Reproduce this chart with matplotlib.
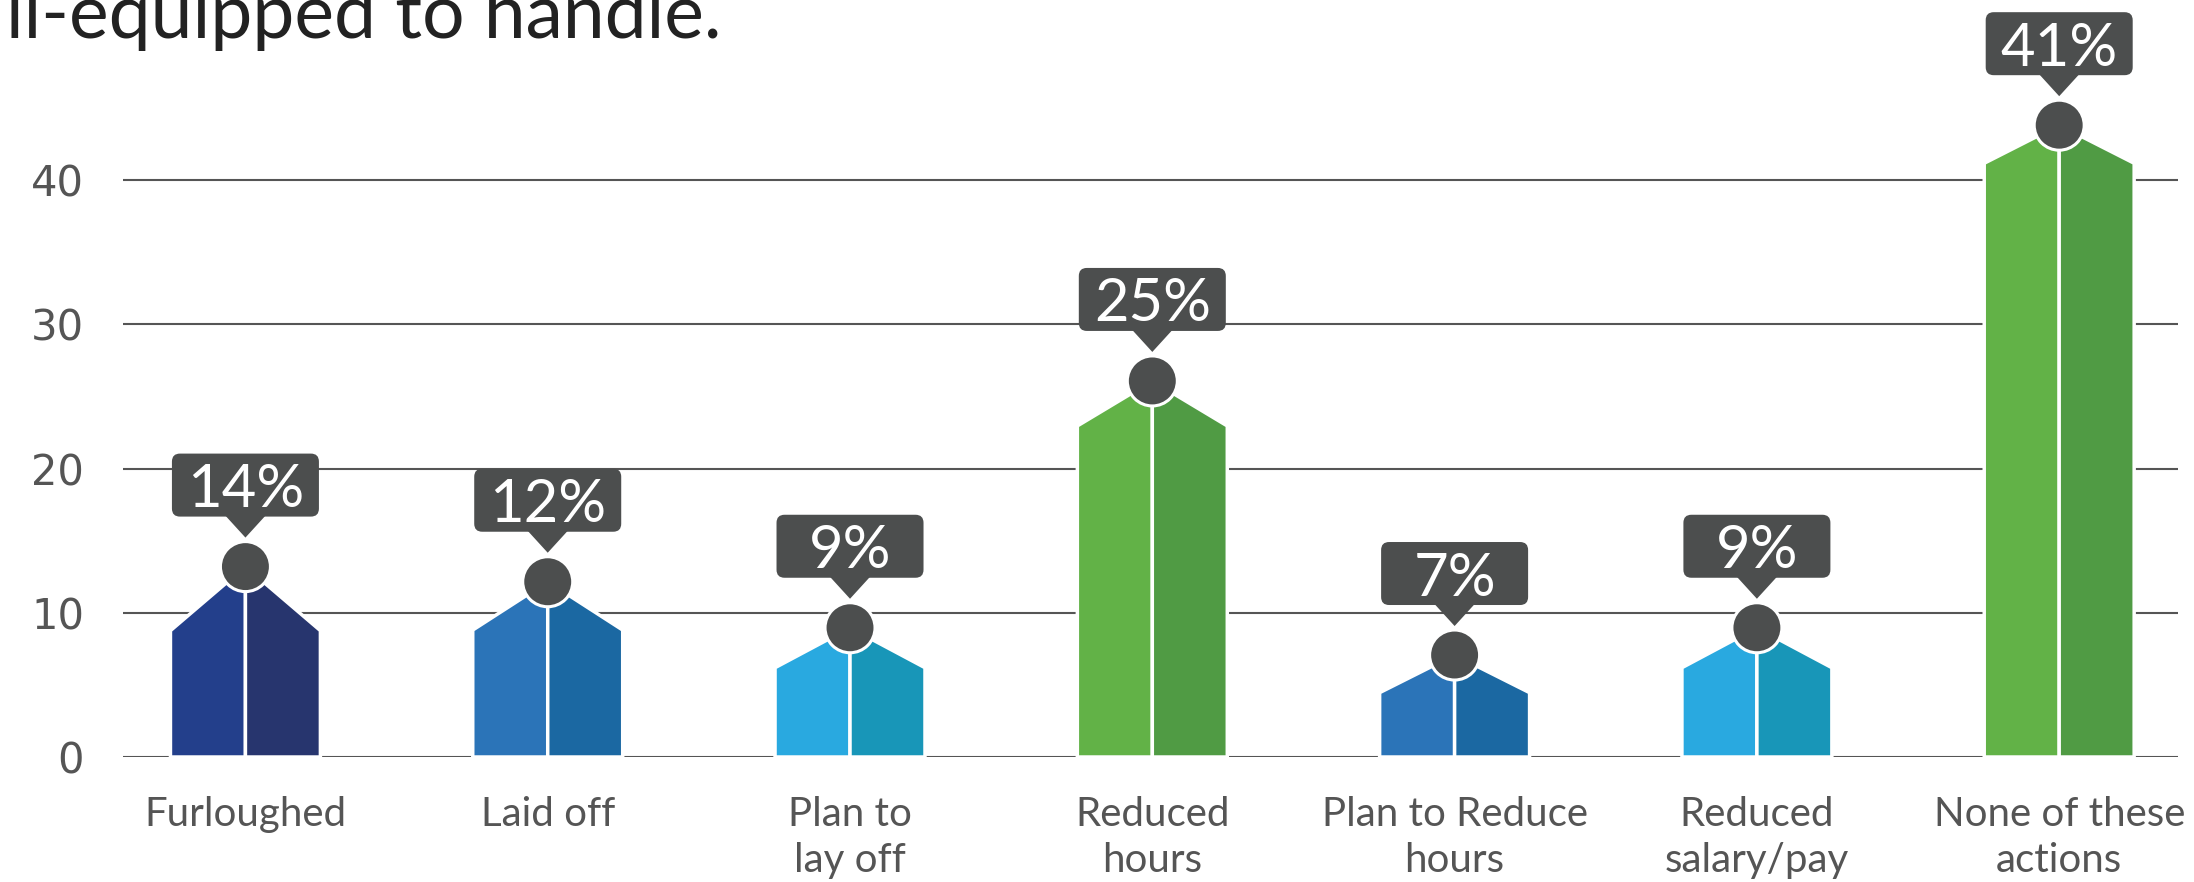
import matplotlib
matplotlib.use("Agg")
import matplotlib.pyplot as plt
from matplotlib.patches import Polygon, FancyBboxPatch, Circle
from matplotlib.transforms import ScaledTranslation

# ---------------- data ----------------
categories = ["Furloughed", "Laid off", "Plan to\nlay off", "Reduced\nhours",
              "Plan to Reduce\nhours", "Reduced\nsalary/pay", "None of these\nactions"]
values = [14, 12, 9, 25, 7, 9, 41]                       # percent labels
head_level = [13.2, 12.15, 8.96, 26.07, 7.07, 8.96, 43.8]   # head centre
shoulder_level = [8.76, 8.80, 6.19, 22.95, 4.46, 6.19, 41.16]  # outer shoulder height
yticks = [0, 10, 20, 30, 40]

left_colors = ["#233F8B", "#2B74B8", "#29A9E0", "#62B247", "#2B74B8", "#29A9E0", "#62B247"]
right_colors = ["#27356E", "#1B68A2", "#1896B8", "#509B44", "#1B68A2", "#1896B8", "#509B44"]

DARK = "#4C4E4E"
GRID = "#555555"
TXT = "#555555"

W, H, DPI = 2194, 882, 100
fig = plt.figure(figsize=(W / DPI, H / DPI), dpi=DPI)
fig.patch.set_facecolor("white")

px_per_y = 14.425
ax = fig.add_axes([123 / W, (H - 757) / H, (2178 - 123) / W, 757 / H])
ax.set_ylim(0, 757 / px_per_y)
ax.set_xlim(-0.405, 6.393)
for s in ax.spines.values():
    s.set_visible(False)
ax.set_facecolor("none")

for y in yticks:
    ax.axhline(y, color=GRID, lw=1.5, zorder=1)

ax.set_yticks(yticks)
ax.set_yticklabels([str(t) for t in yticks], fontsize=30, color=TXT,
                   family="DejaVu Sans")
ax.tick_params(axis="y", length=0, pad=28)

xs = list(range(len(categories)))
ax.set_xticks(xs)
ax.set_xticklabels(categories, fontsize=29, color=TXT, family="Lato")
ax.tick_params(axis="x", length=0, pad=28)
for lab in ax.get_xticklabels():
    lab.set_linespacing(1.3)

body_half = 0.248

def px(v):
    return v / DPI  # pixels -> inches

for i, x in enumerate(xs):
    sh = shoulder_level[i]
    hd = head_level[i]
    lp = Polygon([(x - body_half, 0), (x - body_half, sh), (x, hd), (x, 0)],
                 closed=True, fc=left_colors[i], ec="white", lw=2.5,
                 joinstyle="miter", zorder=3)
    rp = Polygon([(x, 0), (x, hd), (x + body_half, sh), (x + body_half, 0)],
                 closed=True, fc=right_colors[i], ec="white", lw=2.5,
                 joinstyle="miter", zorder=3)
    ax.add_patch(lp)
    ax.add_patch(rp)

    t = fig.dpi_scale_trans + ScaledTranslation(x, hd, ax.transData)
    head = Circle((0, 0), px(25), transform=t, fc=DARK, ec="white",
                  lw=2.2, zorder=5, clip_on=False)
    ax.add_patch(head)

    box = FancyBboxPatch((px(-73.5), px(50)), px(147), px(63),
                         boxstyle="round,pad=0,rounding_size=%f" % px(8),
                         transform=t, fc=DARK, ec="none", zorder=6, clip_on=False)
    ax.add_patch(box)
    tri = Polygon([(px(-21), px(52)), (px(21), px(52)), (0, px(29))], closed=True,
                  transform=t, fc=DARK, ec="none", zorder=6, clip_on=False)
    ax.add_patch(tri)
    ax.text(0, px(81.5), f"{values[i]}%", transform=t, ha="center",
            va="center_baseline", color="white", fontsize=43, family="Lato",
            zorder=7)

fig.text(6 / W, 1 - 38 / H, "ll-equipped to handle.", fontsize=54, color="#222222",
         family="Lato", ha="left", va="baseline")

fig.savefig("out.png", dpi=DPI, facecolor="white")
